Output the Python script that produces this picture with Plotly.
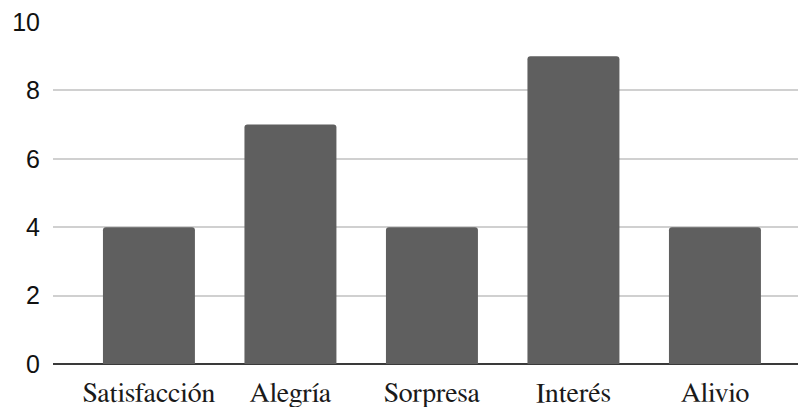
import plotly.graph_objects as go

categories = ["Satisfacción", "Alegría", "Sorpresa", "Interés", "Alivio"]
values = [4, 7, 4, 9, 4]
y_ticks = [0, 2, 4, 6, 8, 10]

fig = go.Figure(
    go.Bar(
        x=categories,
        y=values,
        marker=dict(color="#5f5f5f", line=dict(width=0)),
        width=0.65,
    )
)

fig.update_layout(
    width=798,
    height=407,
    margin=dict(l=53, r=0, t=22, b=43),
    paper_bgcolor="white",
    plot_bgcolor="white",
    showlegend=False,
    barcornerradius=3,
)

fig.update_xaxes(
    range=[-0.678, 4.587],
    showgrid=False,
    showline=False,
    ticks="",
    tickfont=dict(family="FreeSerif, 'Times New Roman', serif", size=28, color="#1a1a1a"),
    ticklabelstandoff=9,
)

fig.update_yaxes(
    range=[0, 10],
    tickvals=y_ticks,
    showgrid=True,
    gridcolor="#d0d0d0",
    gridwidth=1.5,
    zeroline=True,
    zerolinecolor="#3a3a3a",
    zerolinewidth=2,
    showline=False,
    ticks="",
    tickfont=dict(family="'Liberation Sans', Arial, sans-serif", size=25, color="#111111"),
    ticklabelstandoff=12,
)

fig.write_html("out.html")
